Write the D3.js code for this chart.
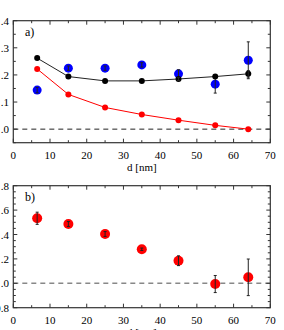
<!DOCTYPE html>
<html>
<head>
<meta charset="utf-8">
<script src="https://cdn.jsdelivr.net/npm/d3@7"></script>
<style>
body { margin: 0; background: #fff; }
text { font-family: "Liberation Serif", "DejaVu Serif", serif; fill: #000; }
</style>
</head>
<body>
<script>
var width = 284, height = 330;

// panel a
var dA = [6.5, 15, 25, 35, 45, 55, 64];
var blackA = [0.262, 0.194, 0.178, 0.178, 0.185, 0.194, 0.204];
var blackErr = [0, 0, 0, 0, 0.006, 0, 0.012];
var redA = [0.222, 0.128, 0.080, 0.054, 0.033, 0.014, 0.0];
var blueA = [0.144, 0.225, 0.225, 0.237, 0.204, 0.166, 0.254];
var blueErr = [0.01, 0.008, 0.008, 0.008, 0.015, 0.033, 0.068];
var yTicksA = [0, 0.1, 0.2, 0.3, 0.4];
var yLabelsA = [".0", ".1", ".2", ".3", ".4"];

// panel b
var dB = [6.5, 15, 25, 35, 45, 55, 64];
var redB = [0.533, 0.486, 0.404, 0.279, 0.185, -0.006, 0.049];
var redBErr = [0.05, 0.02, 0.02, 0.01, 0.04, 0.07, 0.15];
var yTicksB = [-0.2, 0, 0.2, 0.4, 0.6, 0.8];
var yLabelsB = ["0.8", ".0", ".2", ".4", ".6", ".8"];

var xTicks = [0, 10, 20, 30, 40, 50, 60, 70];

var svg = d3.select("body").append("svg")
    .attr("width", width)
    .attr("height", height);

var x = d3.scaleLinear().domain([0, 70]).range([13.3, 270.3]);

function drawPanel(top, bottom, yDomain, yTicks, yLabels, minorStep, letter, dashColor, dashWidth) {
  var y = d3.scaleLinear().domain(yDomain).range([bottom, top]);
  var g = svg.append("g");

  // zero line
  g.append("line")
      .attr("x1", x(0)).attr("x2", x(70))
      .attr("y1", y(0)).attr("y2", y(0))
      .attr("stroke", dashColor)
      .attr("stroke-width", dashWidth)
      .attr("stroke-dasharray", "5,4");

  // minor / major ticks, all four sides pointing in
  var xMinor = d3.range(0, 70.01, 5);
  xMinor.forEach(function(v) {
    var len = (v % 10 === 0) ? 4 : 2.5;
    g.append("line").attr("x1", x(v)).attr("x2", x(v)).attr("y1", bottom).attr("y2", bottom - len).attr("stroke", "#333");
    g.append("line").attr("x1", x(v)).attr("x2", x(v)).attr("y1", top).attr("y2", top + len).attr("stroke", "#333");
  });
  var yMinor = d3.range(yDomain[0], yDomain[1] + 1e-6, minorStep);
  yMinor.forEach(function(v) {
    var major = yTicks.some(function(t) { return Math.abs(t - v) < 1e-6; });
    var len = major ? 4 : 2.5;
    g.append("line").attr("x1", x(0)).attr("x2", x(0) + len).attr("y1", y(v)).attr("y2", y(v)).attr("stroke", "#333");
    g.append("line").attr("x1", x(70)).attr("x2", x(70) - len).attr("y1", y(v)).attr("y2", y(v)).attr("stroke", "#333");
  });

  g.append("rect")
      .attr("x", x(0)).attr("y", top)
      .attr("width", x(70) - x(0)).attr("height", bottom - top)
      .attr("fill", "none")
      .attr("stroke", "#333")
      .attr("stroke-width", 1.2);

  g.selectAll(".xl")
      .data(xTicks)
    .enter().append("text")
      .attr("x", function(d) { return x(d); })
      .attr("y", bottom + 16)
      .attr("text-anchor", "middle")
      .style("font-size", "11px")
      .text(function(d) { return d; });

  g.selectAll(".yl")
      .data(yTicks)
    .enter().append("text")
      .attr("x", 9)
      .attr("y", function(d) { return y(d) + 4; })
      .attr("text-anchor", "end")
      .style("font-size", "11px")
      .text(function(d, i) { return yLabels[i]; });

  g.append("text")
      .attr("x", 25).attr("y", top + 15)
      .style("font-size", "12px")
      .text(letter);

  g.append("text")
      .attr("x", x(35)).attr("y", bottom + 28)
      .attr("text-anchor", "middle")
      .style("font-size", "11px")
      .text("d [nm]");

  return { g: g, y: y };
}

function errBars(g, y, xs, ys, es, cap) {
  xs.forEach(function(d, i) {
    if (!es[i]) return;
    g.append("line")
        .attr("x1", x(d)).attr("x2", x(d))
        .attr("y1", y(ys[i] - es[i])).attr("y2", y(ys[i] + es[i]))
        .attr("stroke", "#222");
    [ys[i] - es[i], ys[i] + es[i]].forEach(function(v) {
      g.append("line")
          .attr("x1", x(d) - cap).attr("x2", x(d) + cap)
          .attr("y1", y(v)).attr("y2", y(v))
          .attr("stroke", "#222");
    });
  });
}

// panel a
var pa = drawPanel(20.7, 142.7, [-0.05, 0.4], yTicksA, yLabelsA, 0.05, "a)", "#222", 1);
var line = d3.line()
    .x(function(d) { return x(d[0]); })
    .y(function(d) { return pa.y(d[1]); });

pa.g.append("path")
    .datum(d3.zip(dA, blackA))
    .attr("d", line)
    .attr("fill", "none")
    .attr("stroke", "#222")
    .attr("stroke-width", 1);
pa.g.append("path")
    .datum(d3.zip(dA, redA))
    .attr("d", line)
    .attr("fill", "none")
    .attr("stroke", "#ff0000")
    .attr("stroke-width", 1);

pa.g.selectAll(".blue")
    .data(d3.zip(dA, blueA))
  .enter().append("circle")
    .attr("cx", function(d) { return x(d[0]); })
    .attr("cy", function(d) { return pa.y(d[1]); })
    .attr("r", 4.5)
    .attr("fill", "#0000ff");
errBars(pa.g, pa.y, dA, blueA, blueErr, 1.5);

pa.g.selectAll(".black")
    .data(d3.zip(dA, blackA))
  .enter().append("circle")
    .attr("cx", function(d) { return x(d[0]); })
    .attr("cy", function(d) { return pa.y(d[1]); })
    .attr("r", 3)
    .attr("fill", "#000");
errBars(pa.g, pa.y, dA, blackA, blackErr, 1.5);

pa.g.selectAll(".red")
    .data(d3.zip(dA, redA))
  .enter().append("circle")
    .attr("cx", function(d) { return x(d[0]); })
    .attr("cy", function(d) { return pa.y(d[1]); })
    .attr("r", 3)
    .attr("fill", "#ff0000");

// panel b
var pb = drawPanel(185.7, 307.7, [-0.2, 0.8], yTicksB, yLabelsB, 0.05, "b)", "#888", 1.6);

pb.g.selectAll(".redb")
    .data(d3.zip(dB, redB))
  .enter().append("circle")
    .attr("cx", function(d) { return x(d[0]); })
    .attr("cy", function(d) { return pb.y(d[1]); })
    .attr("r", 5)
    .attr("fill", "#ff0000");
errBars(pb.g, pb.y, dB, redB, redBErr, 1.5);
</script>
</body>
</html>
